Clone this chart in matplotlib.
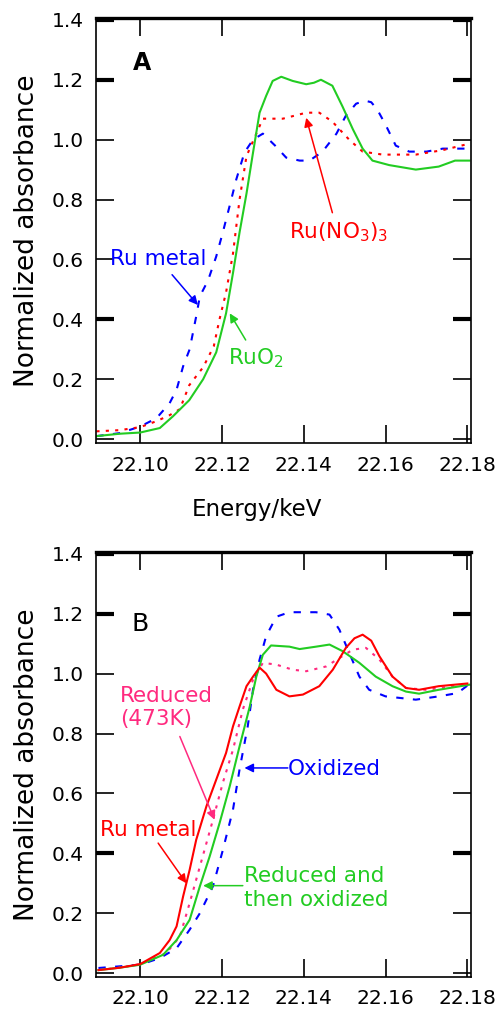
import matplotlib
matplotlib.use("Agg")
import matplotlib.pyplot as plt

plt.rcParams["font.family"] = ["DejaVu Sans"]
plt.rcParams["mathtext.default"] = "regular"

BLUE = "#0000ff"
RED = "#ff0000"
GREEN = "#22cc22"
PINK = "#ff2a7f"

# ---- Panel A: reference compounds ----
energyRuMetalA = [22.0893, 22.095, 22.100, 22.104, 22.1072, 22.1089, 22.1105, 22.1121, 22.1137,
                  22.1146, 22.1166, 22.1186, 22.1202, 22.1219, 22.1235, 22.1255, 22.1276, 22.130,
                  22.133, 22.1357, 22.139, 22.1414, 22.1446, 22.148, 22.1503, 22.1528, 22.155,
                  22.1565, 22.158, 22.160, 22.1625, 22.1658, 22.170, 22.174, 22.180]
absRuMetalA = [0.01, 0.02, 0.042, 0.07, 0.12, 0.165, 0.243, 0.30, 0.41, 0.477, 0.53, 0.61, 0.69,
               0.78, 0.867, 0.957, 1.0, 1.02, 0.98, 0.94, 0.93, 0.93, 0.96, 1.02, 1.08, 1.12, 1.13,
               1.125, 1.10, 1.05, 0.98, 0.96, 0.96, 0.97, 0.97]

energyRuNitrateA = [22.0893, 22.095, 22.100, 22.104, 22.1072, 22.1097, 22.112, 22.1154, 22.118,
                    22.1194, 22.121, 22.1227, 22.1243, 22.126, 22.1284, 22.130, 22.1349, 22.1406,
                    22.1438, 22.147, 22.1511, 22.1544, 22.1593, 22.1674, 22.174, 22.180]
absRuNitrateA = [0.026, 0.03, 0.04, 0.06, 0.08, 0.10, 0.18, 0.24, 0.31, 0.40, 0.49, 0.62, 0.80,
                 0.945, 1.02, 1.07, 1.07, 1.09, 1.09, 1.06, 1.00, 0.96, 0.95, 0.95, 0.965, 0.985]

energyRuO2A = [22.0893, 22.095, 22.100, 22.1048, 22.108, 22.112, 22.1154, 22.1186, 22.121,
               22.1227, 22.1243, 22.126, 22.1276, 22.1292, 22.1308, 22.1324, 22.1345, 22.1373,
               22.1406, 22.1425, 22.1442, 22.147, 22.1495, 22.152, 22.1544, 22.1568, 22.1609,
               22.1674, 22.173, 22.177, 22.1805]
absRuO2A = [0.01, 0.018, 0.022, 0.037, 0.076, 0.13, 0.20, 0.29, 0.42, 0.555, 0.69, 0.82, 0.957,
            1.09, 1.146, 1.196, 1.21, 1.196, 1.185, 1.19, 1.20, 1.18, 1.11, 1.035, 0.97, 0.93,
            0.915, 0.90, 0.91, 0.93, 0.93]

# ---- Panel B: catalyst treatments ----
energyRuMetalB = [22.0898, 22.095, 22.100, 22.1048, 22.1072, 22.1089, 22.1105, 22.1121, 22.1137,
                  22.1162, 22.1186, 22.121, 22.1227, 22.1243, 22.126, 22.1276, 22.1292, 22.1308,
                  22.1333, 22.1365, 22.1398, 22.1438, 22.1471, 22.1503, 22.1524, 22.1544, 22.1565,
                  22.1585, 22.1617, 22.165, 22.1682, 22.173, 22.180]
absRuMetalB = [0.01, 0.018, 0.03, 0.067, 0.11, 0.156, 0.256, 0.345, 0.445, 0.557, 0.646, 0.735,
               0.824, 0.89, 0.958, 0.99, 1.02, 1.0, 0.946, 0.924, 0.93, 0.958, 1.013, 1.086, 1.118,
               1.13, 1.11, 1.058, 0.99, 0.952, 0.946, 0.958, 0.967]

energyReducedB = [22.0898, 22.095, 22.100, 22.1064, 22.1097, 22.1121, 22.1146, 22.1178, 22.1202,
                  22.1227, 22.1251, 22.1276, 22.130, 22.1333, 22.1373, 22.1406, 22.1455, 22.1487,
                  22.152, 22.1552, 22.1585, 22.1617, 22.165, 22.1698, 22.180]
absReducedB = [0.01, 0.018, 0.03, 0.067, 0.122, 0.234, 0.356, 0.512, 0.635, 0.746, 0.88, 0.98,
               1.036, 1.03, 1.013, 1.008, 1.024, 1.052, 1.08, 1.086, 1.047, 0.99, 0.952, 0.946,
               0.963]

energyRedOxB = [22.0898, 22.095, 22.100, 22.1056, 22.1089, 22.1121, 22.1146, 22.117, 22.1194,
                22.1219, 22.1243, 22.1268, 22.1284, 22.130, 22.132, 22.1365, 22.139, 22.1430,
                22.1463, 22.1495, 22.1536, 22.1576, 22.1617, 22.165, 22.1682, 22.173, 22.1805]
absRedOxB = [0.01, 0.018, 0.028, 0.061, 0.11, 0.178, 0.29, 0.39, 0.50, 0.624, 0.757, 0.89, 0.99,
             1.063, 1.094, 1.09, 1.082, 1.09, 1.097, 1.075, 1.036, 0.99, 0.958, 0.94, 0.933,
             0.946, 0.963]

energyOxidizedB = [22.0898, 22.100, 22.1048, 22.1089, 22.1121, 22.1146, 22.1178, 22.1202, 22.1227,
                   22.1243, 22.1263, 22.1276, 22.1292, 22.1308, 22.1333, 22.1365, 22.1430, 22.1463,
                   22.1487, 22.1511, 22.1536, 22.156, 22.160, 22.1674, 22.173, 22.1776, 22.1805]
absOxidizedB = [0.017, 0.028, 0.05, 0.083, 0.145, 0.20, 0.29, 0.41, 0.546, 0.68, 0.824, 0.947,
                1.047, 1.125, 1.19, 1.205, 1.205, 1.197, 1.147, 1.07, 0.99, 0.946, 0.924, 0.913,
                0.924, 0.935, 0.965]

xTicks = [22.10, 22.12, 22.14, 22.16, 22.18]
yTicks = [0.0, 0.2, 0.4, 0.6, 0.8, 1.0, 1.2, 1.4]
thickYTicks = [0.4, 1.2, 1.4]

DASHED = (0, (3.5, 4.5))
DOTTED = (0, (1.5, 3.0))
LW = 1.5


def styleAxes(ax):
    ax.set_xlim(22.0892, 22.1809)
    ax.set_ylim(-0.013, 1.406)
    ax.set_xticks(xTicks)
    ax.set_xticklabels([f"{t:.2f}" for t in xTicks])
    ax.set_yticks(yTicks)
    ax.set_yticklabels([f"{t:.1f}" for t in yTicks])
    ax.tick_params(direction="in", length=13, width=1.2, top=True, right=True,
                   labelsize=14.5, pad=9)
    for side in ["left", "right", "bottom"]:
        ax.spines[side].set_linewidth(1.2)
    ax.spines["top"].set_linewidth(2.4)
    # a few ticks are drawn heavier in the original
    for tick, val in zip(ax.yaxis.get_major_ticks(), yTicks):
        if val in thickYTicks:
            tick.tick1line.set_markeredgewidth(3)
            tick.tick2line.set_markeredgewidth(3)
    ax.set_ylabel("Normalized absorbance", fontsize=19, labelpad=8)


def arrow(ax, start, end, color):
    ax.annotate("", xy=end, xytext=start,
                arrowprops=dict(arrowstyle="-|>", color=color, lw=1.1,
                                mutation_scale=13, shrinkA=0, shrinkB=0))


fig = plt.figure(figsize=(4.99, 10.14), dpi=100)
axA = fig.add_axes([0.1924, 0.5631, 0.7515, 0.4191])
axB = fig.add_axes([0.1924, 0.0365, 0.7515, 0.4191])

# Panel A
axA.plot(energyRuMetalA, absRuMetalA, color=BLUE, lw=LW, linestyle=DASHED)
axA.plot(energyRuNitrateA, absRuNitrateA, color=RED, lw=LW, linestyle=DOTTED)
axA.plot(energyRuO2A, absRuO2A, color=GREEN, lw=LW)
styleAxes(axA)
axA.set_xlabel("Energy/keV", fontsize=16.5)
axA.xaxis.set_label_coords(0.43, -0.13)

axA.text(22.1004, 1.257, "A", fontsize=17, fontweight="bold", ha="center", va="center")
axA.text(22.0926, 0.60, "Ru metal", color=BLUE, fontsize=15.5, ha="left", va="center")
arrow(axA, (22.1078, 0.549), (22.1141, 0.448), BLUE)
axA.text(22.1365, 0.69, r"Ru(NO$_3$)$_3$", color=RED, fontsize=15.5, ha="left", va="center")
arrow(axA, (22.147, 0.756), (22.1406, 1.073), RED)
axA.text(22.1214, 0.27, r"RuO$_2$", color=GREEN, fontsize=15.5, ha="left", va="center")
arrow(axA, (22.1258, 0.331), (22.1219, 0.42), GREEN)

# Panel B
axB.plot(energyOxidizedB, absOxidizedB, color=BLUE, lw=LW, linestyle=DASHED)
axB.plot(energyReducedB, absReducedB, color=PINK, lw=LW, linestyle=DOTTED)
axB.plot(energyRedOxB, absRedOxB, color=GREEN, lw=LW)
axB.plot(energyRuMetalB, absRuMetalB, color=RED, lw=LW)
styleAxes(axB)

axB.text(22.0999, 1.164, "B", fontsize=18, ha="center", va="center")
axB.text(22.095, 0.888, "Reduced\n(473K)", color=PINK, fontsize=15.5, ha="left", va="center")
arrow(axB, (22.1097, 0.79), (22.1182, 0.512), PINK)
axB.text(22.1361, 0.682, "Oxidized", color=BLUE, fontsize=15.5, ha="left", va="center")
arrow(axB, (22.1361, 0.685), (22.1255, 0.685), BLUE)
axB.text(22.0902, 0.479, "Ru metal", color=RED, fontsize=15.5, ha="left", va="center")
arrow(axB, (22.1044, 0.434), (22.1113, 0.30), RED)
axB.text(22.1255, 0.284, "Reduced and\nthen oxidized", color=GREEN, fontsize=15.5,
         ha="left", va="center")
arrow(axB, (22.1251, 0.292), (22.1154, 0.292), GREEN)

fig.savefig("out.png", dpi=100)
